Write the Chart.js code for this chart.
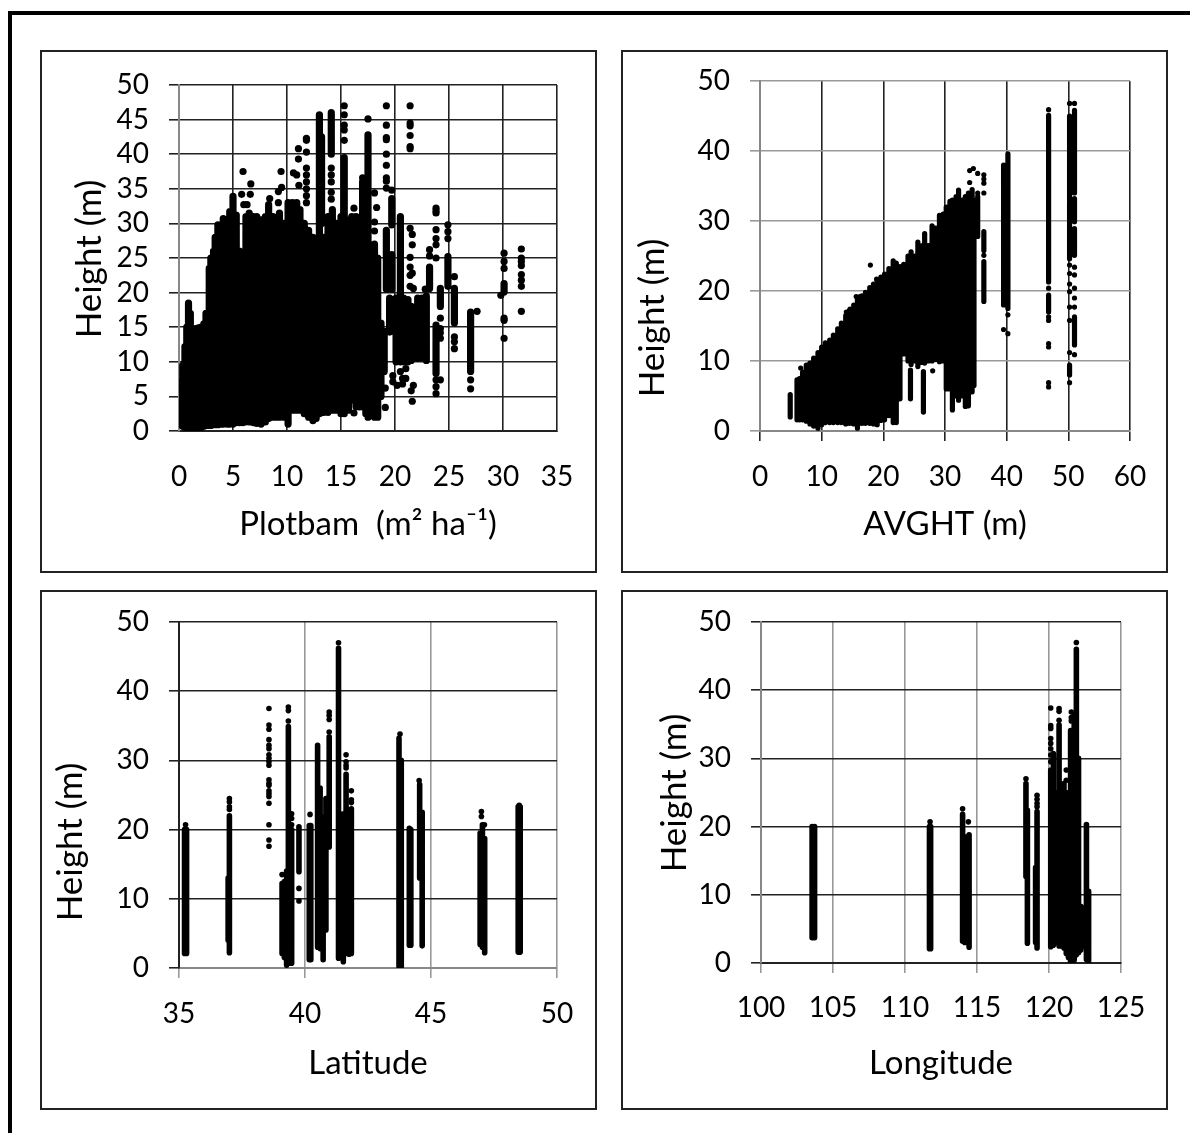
<!DOCTYPE html>
<html>
<head>
<meta charset="utf-8">
<title>Height scatter panels</title>
<script src="https://cdn.jsdelivr.net/npm/chart.js@4/dist/chart.umd.min.js"></script>
<style>
    html, body { margin: 0; padding: 0; background: #fff; width: 1190px; height: 1133px; overflow: hidden; }
    #frameTop { position: absolute; left: 8px; top: 11px; width: 1182px; height: 4px; background: #000; }
    #frameLeft { position: absolute; left: 8px; top: 11px; width: 4px; height: 1122px; background: #000; }
    canvas { position: absolute; display: block; }
    .caja { position: absolute; box-sizing: border-box; border: 2px solid #222; pointer-events: none; }
</style>
</head>
<body>
<div id="frameTop"></div>
<div id="frameLeft"></div>
<canvas id="plotbam"></canvas>
<canvas id="avght"></canvas>
<canvas id="latitude"></canvas>
<canvas id="longitude"></canvas>
<script>
// tick labels
var heightTicks10 = [0, 10, 20, 30, 40, 50];
var heightTicks5 = [0, 5, 10, 15, 20, 25, 30, 35, 40, 45, 50];
var plotbamTicks = [0, 5, 10, 15, 20, 25, 30, 35];
var avghtTicks = [0, 10, 20, 30, 40, 50, 60];
var latitudeTicks = [35, 40, 45, 50];
var longitudeTicks = [100, 105, 110, 115, 120, 125];

// solid columns: [x, lowest height, highest height]
var plotbamRanges = [
    [0.15,0.9,7],[0.35,0.7,9.5],[0.55,0.5,12.2],[0.72,0.5,15],[0.88,0.4,18.5],[1.05,0.6,17],[1.2,0.7,13.2],
    [1.4,0.4,13],[1.55,0.3,14.8],[1.8,0.4,14.9],[2.05,0.5,15],[2.3,0.7,15.5],[2.5,0.8,17],[2.8,0.8,23.5],
    [2.95,0.8,25],[3.2,1,26],[3.35,0.9,28],[3.6,0.9,29.8],[3.95,1,27],[4.1,1,30.7],[4.5,1,29],[4.7,1,31.7],
    [5,1,33.9],[5.3,1.2,31.2],[5.6,1.2,26],[5.9,1.2,25.7],[6.2,1.3,31],[6.5,1.3,31.5],[6.9,1.2,31],[7.2,1.1,31],
    [7.6,1,30.5],[8,1.3,31],[8.3,1.8,32.7],[8.7,2,31],[9,2,30],[9.3,2,31.5],[9.7,2,30],[10.1,1,33],[10.5,3,33],
    [10.9,3,33],[11.2,3,32],[11.6,2.5,30],[12,2,29],[12.4,1.5,28],[12.7,1.8,26],[13,2.5,45.7],[13.2,30,42.5],[13.4,2.7,28],
    [13.8,2.7,31],[14.2,3,32],[14.1,40,46],[14.6,3,30],[15,2.5,31],[15.3,2.5,39.5],[15.7,3,30.5],[16,4.5,31],
    [16.4,3.5,31],[16.7,3.5,30.5],[17,3.5,36],[17.3,2.5,31],[17.5,2,31],[17.5,31,42.8],[17.9,4,26],[18.1,2,27],
    [18.4,2,25],[18.7,5,15.6],[19,8.6,14.4],[19.2,20.5,29],[19.7,29.8,33.6],[19.7,20.5,25.5],[19.5,14.3,19.2],
    [20.1,10,19.2],[20.5,20.6,31],[20.5,10,20.6],[20.8,10,19.2],[21.2,10,19],[21.5,10.2,18],[22.1,10.5,19.2],
    [22.5,10.5,19.2],[22.9,10.2,19.5],[23.2,20.6,23.7],[23.8,8.3,15.3],[24.2,18,20.6],[24.9,20.9,25.2],
    [25.5,15.6,20.6],[27,8.6,17.2],[30.1,20.1,21.3]
];
// single dots: [x, height]
var plotbamDots = [
    [5.93,37.5],[6.65,35.7],[5.8,34.2],[6.6,34.2],[6,32.7],[6.3,32.7],[9.5,35.2],[9.2,34.6],[9.2,33],[8.4,33.6],
    [9.45,37.5],[11.06,40.8],[11.06,39.3],[10.6,37.3],[10.9,37],[11.1,35.5],[11.8,42.3],[11.8,42],[11.8,40.3],
    [11.8,38],[11.8,37],[11.8,36],[11.8,35],[11.8,34],[11.8,33],[14.1,38],[14.1,37],[14.1,36],[14.1,34.5],[14.1,33.5],
    [15.3,47],[15.3,45.7],[15.3,44.2],[15.3,43.5],[15.3,42],[17.5,45.1],[17,36.6],[16.2,32.2],[18.1,34.4],[18.3,32.3],
    [18.1,30.2],[18.1,28.9],[19.2,47],[21.4,47],[19.2,44.2],[21.4,44.5],[21.4,44.1],[21.4,42.7],[21.4,41.1],[21.4,40.8],
    [19.2,42.4],[19.2,42.1],[19.2,40],[19.2,38.4],[19.2,36.6],[19.2,36.1],[19.2,35.1],[19.7,34.8],[21.4,29.3],[21.6,28.4],
    [21.6,26.9],[21.4,25.1],[21.4,23.7],[21.4,22.5],[21.6,22.8],[21.4,20.9],[21.7,20.6],[23.2,26.2],[23.2,25.3],[22.8,20.5],
    [23.8,32.2],[23.8,31.8],[23.8,31.5],[23.8,29.1],[23.8,27.8],[23.8,26.9],[23.8,25],[24.9,29.8],[24.9,28.8],[24.9,27.8],
    [24.2,16.3],[24.2,14.8],[24.2,14.2],[24.2,13.4],[23.8,7.4],[24.2,7.4],[23.8,6.4],[23.8,5.4],[25.5,22.3],[25.5,13.6],
    [25.5,12.9],[25.5,11.9],[27,7.4],[27,6.1],[27.6,17.3],[30.1,25.7],[30.1,24.5],[30.1,23.5],[29.8,19.6],[30.1,16.3],
    [30.1,16],[30.1,13.4],[31.7,26.3],[31.7,25],[31.7,24.5],[31.7,23.9],[31.7,22.6],[31.7,21.8],[31.7,20.9],[31.7,17.3],
    [20.5,8.6],[21,9],[20.7,7.6],[20.2,6.6],[19.8,8],[19.8,7.1],[19.1,6.2],[19.1,3.4],[21.7,6.6],[21.5,5.8],[21.6,4.3],
    [21,7.6],[20.7,6.8],[16.2,2.6],[16.8,3.7]
];

var avghtRanges = [
    [4.9,2,5.2],[6,1.6,7.3],[6.4,1.6,7.5],[6.9,1.6,8.4],[7.5,1.4,9.4],[8.1,1,9.7],[8.7,0.7,10.4],[9.4,0.4,11.2],
    [10,0.9,12],[10.6,1.2,12.6],[11.3,1.2,13],[11.9,1.2,13.7],[12.6,1.2,14.6],[13.2,1.2,15.4],[13.9,1,16.5],
    [14.5,1.1,17.2],[15.2,1,18],[15.8,0.4,18.8],[16.5,1.1,19.3],[17.1,1.1,19.8],[17.8,1.1,20.5],[18.4,1,21],
    [19,0.9,21.5],[19.6,1.5,22],[20.2,1.6,22.4],[20.9,2.2,23.2],[21.6,1.2,24.3],[22.1,1.2,24],[22.7,4.6,23.5],
    [23.3,11,23.8],[24,10,25],[24.5,9.5,25.6],[25.1,10,25],[25.6,9.2,27],[26.3,9.8,26.5],[26.7,9.7,28.2],[27.3,10,26.5],
    [27.9,10,29.3],[28.5,10.2,29],[29.1,9.9,30.8],[29.7,10,31],[30.2,6,32],[30.8,6,32.8],[31.2,3,33],[31.8,5,33.5],
    [32.2,4.4,34.4],[32.8,5,33],[33.3,3.5,33.5],[33.8,3.6,34],[34.4,5.6,34.5],[34.7,6.5,33],[35.3,27.8,33.5],
    [24.4,4.6,8.7],[26.5,2.7,8.5],[36.3,18.5,24.2],[36.3,25.8,28.5],
    [39.5,18,38],[40.2,17.5,39.6],[46.8,21.3,45.1],[46.8,17,19.4],[50.2,33,45],[50.2,24.6,32.7],[51,34,45.8],[51,29.9,33.2],
    [51,25.1,28.9],[51,12.3,16.3],[50.2,8,9.4]
];
var avghtDots = [
    [17.9,23.7],[18.9,21.7],[15.6,19.2],[16.2,19.2],[14,17],[14.6,17.4],[6.6,9],[8,9.5],[34.6,37.5],[34,37.2],[35.3,36.8],
    [36.3,36.6],[36.3,36],[36.3,35.4],[34,35.5],[36.3,34],[35.3,34],[36.3,25.1],[39.5,14.5],[40.2,16.6],[40.2,13.9],
    [46.8,45.9],[46.8,20.4],[46.8,16.3],[46.8,15.8],[46.8,12.5],[46.8,12],[46.8,6.9],[46.8,6.3],[50.2,46.8],[51,46.8],
    [50.2,23.7],[50.2,22.5],[50.2,21],[50.2,19.9],[50.2,17.7],[50.2,15.8],[50.2,11.2],[50.2,6.9],[51,23.4],[51,22.3],
    [51,20.4],[51,19],[51,17.7],[51,10.9],[28,8.6]
];

var latitudeRanges = [
    [35.22,2.1,20],[35.3,2.1,20],[36.95,4,13],[37,2.2,22],[39.09,2.1,12.2],[39.18,1.5,12.5],[39.27,0.4,14],[39.34,1.2,34.9],
    [39.4,0.7,20],[39.47,0.7,20],[40.17,1.2,20.6],[40.23,1.2,20.6],[40.5,3,32.2],[40.6,2.8,26],[40.72,1.2,21.8],[40.83,5.5,24.5],
    [40.96,17.5,33.4],[41.33,1.4,46.2],[41.42,1.5,18],[41.52,0.9,22.3],[41.63,2.1,28],[41.75,2,22.8],[41.84,2.1,23],
    [43.73,0.2,33.2],[43.82,0.2,30],[44.14,3.3,20.2],[44.2,3.3,20],[44.55,13,26.5],[44.65,3.2,22.5],[46.95,3.4,19.5],
    [47.04,3,20.7],[47.13,2.2,18.7],[48.46,2.3,23.3],[48.54,2.3,23.3],[39.76,13.9,20.4]
];
var latitudeDots = [
    [35.26,20.7],[37,24.5],[37,24],[37,23.3],[37,22.9],[38.57,37.5],[38.57,35.1],[38.57,34.5],[38.57,33],[38.57,32.2],[38.57,31.7],
    [38.57,30.8],[38.57,30.3],[38.57,29.8],[38.57,29.3],[38.57,27.2],[38.57,26.7],[38.57,26.4],[38.57,25.6],[38.57,25.2],
    [38.57,24.8],[38.57,23.8],[38.57,20.7],[38.57,18.5],[38.57,17.6],[39.09,13.5],[39.34,37.7],[39.34,37.2],[39.34,35.7],
    [39.47,22.3],[39.47,21.6],[39.47,20.7],[39.76,11.5],[39.76,9.7],[40.2,22.2],[40.96,37],[40.96,36.5],[40.96,35.9],[40.96,34.1],
    [41.33,47],[41.63,30.8],[41.63,29.8],[41.63,29.3],[41.63,28.9],[41.84,25.6],[41.84,24.3],[41.84,23.9],[43.77,33.8],[44.53,27.1],
    [47,22.6],[47,21.9],[47.12,20.7],[48.5,23.5]
];

var longitudeRanges = [
    [103.55,3.7,20],[103.72,3.7,20],[111.7,2.1,20],[111.78,2.1,20],[114,3.2,21.8],[114.15,3,18.5],[114.45,2.3,18.8],[118.4,12.7,26.3],
    [118.5,2.9,22.4],[119.07,3,14],[119.17,2.2,22.2],[120.12,2.4,28.3],[120.3,2.6,30.7],[120.55,3,25],[120.7,2.5,34.9],[120.9,2.5,22],
    [121.04,2.2,26.3],[121.2,1.4,25],[121.35,0.8,24],[121.5,0.2,34.1],[121.75,0.4,36.5],[121.9,1.2,46],[122.05,1.5,30],[122.2,1.9,8.3],
    [122.4,2.5,8],[122.6,0.5,20],[122.75,0.3,10.5]
];
var longitudeDots = [
    [111.74,20.7],[114,22.6],[114.4,20.7],[118.4,27],[119.17,24.6],[119.17,24],[119.17,23.4],[119.17,22.9],[120.12,37.4],[120.12,34.8],
    [120.12,34.4],[120.12,32.9],[120.12,32.2],[120.12,31.4],[120.12,30.5],[120.12,29.5],[120.7,37.3],[120.7,36.9],[120.7,35.6],
    [121.2,28.3],[121.2,26.8],[121.55,36.8],[121.55,36],[121.55,35.5],[121.9,47],[122.6,20.3]
];

function columnsToLine(ranges) {
    var points = [];
    ranges.forEach(function (r) {
        points.push({x: r[0], y: r[1]}, {x: r[0], y: r[2]}, {x: null, y: null});
    });
    return points;
}

function dotsToPoints(dots) {
    return dots.map(function (d) { return {x: d[0], y: d[1]}; });
}

function panel(id, cfg) {
    var box = cfg.box, plot = cfg.plot;
    var canvas = document.getElementById(id);
    canvas.style.left = box.left + 'px';
    canvas.style.top = box.top + 'px';

    var caja = document.createElement('div');
    caja.className = 'caja';
    caja.style.cssText = 'left:' + box.left + 'px;top:' + box.top + 'px;width:' + (box.right - box.left) + 'px;height:' + (box.bottom - box.top) + 'px';
    document.body.appendChild(caja);

    // the y title is not centred on the axis in every panel, so it is placed by hand
    var yTitle = {
        id: 'yTitle',
        afterDraw: function (chart) {
            var ctx = chart.ctx;
            ctx.save();
            ctx.translate(cfg.yTitleAt[0] - box.left, cfg.yTitleAt[1] - box.top);
            ctx.rotate(-Math.PI / 2);
            ctx.font = '35px Lato';
            ctx.fillStyle = '#000';
            ctx.textAlign = 'center';
            ctx.textBaseline = 'middle';
            ctx.fillText('Height (m)', 0, 0);
            ctx.restore();
        }
    };

    new Chart(canvas, {
        type: 'scatter',
        plugins: [yTitle],
        data: {
            datasets: [{
                label: 'columns',
                data: columnsToLine(cfg.ranges),
                showLine: true,
                spanGaps: false,
                pointRadius: 0,
                borderColor: '#000',
                borderWidth: cfg.radius * 2,
                borderCapStyle: 'round'
            }, {
                label: 'dots',
                data: dotsToPoints(cfg.dots),
                pointRadius: cfg.radius,
                pointBorderWidth: 0,
                pointBackgroundColor: '#000'
            }]
        },
        options: {
            responsive: false,
            animation: false,
            devicePixelRatio: 1,
            events: [],
            layout: {
                padding: {
                    left: 0,
                    top: plot.top - box.top,
                    right: box.right - plot.right,
                    bottom: box.bottom - cfg.xBottom
                }
            },
            plugins: {legend: {display: false}, tooltip: {enabled: false}},
            scales: {
                x: {
                    type: 'linear',
                    min: cfg.xTicks[0],
                    max: cfg.xTicks[cfg.xTicks.length - 1],
                    afterBuildTicks: function (axis) {
                        axis.ticks = cfg.xTicks.map(function (v) { return {value: v}; });
                    },
                    afterFit: function (axis) {
                        axis.height = cfg.xBottom - plot.bottom;
                        axis.paddingLeft = 0;
                        axis.paddingRight = 0;
                    },
                    grid: {color: cfg.xGrid, lineWidth: 1.6, tickLength: cfg.xTickLen, tickColor: cfg.xGrid},
                    border: {color: cfg.bottomAxis, width: 2},
                    ticks: {
                        color: '#000', font: {family: 'Lato', size: 28}, padding: cfg.xPad,
                        maxRotation: 0, autoSkip: false
                    },
                    title: {
                        display: true, text: cfg.xTitle, color: '#000',
                        font: {family: 'Lato', size: 33}, padding: 0
                    }
                },
                y: {
                    type: 'linear',
                    min: 0,
                    max: 50,
                    afterBuildTicks: function (axis) {
                        axis.ticks = cfg.yTicks.map(function (v) { return {value: v}; });
                    },
                    afterFit: function (axis) {
                        axis.width = plot.left - box.left;
                        axis.paddingTop = 0;
                        axis.paddingBottom = 0;
                    },
                    grid: {color: cfg.yGrid, lineWidth: 1.6, tickLength: 10, tickColor: cfg.yGrid},
                    border: {color: cfg.leftAxis, width: 2},
                    ticks: {
                        color: '#000', font: {family: 'Lato', size: 28}, padding: cfg.yPad,
                        autoSkip: false
                    }
                }
            }
        }
    });
}

// canvas size has to be set before Chart reads it
[['plotbam', 557, 523], ['avght', 547, 523], ['latitude', 557, 520], ['longitude', 547, 520]].forEach(function (s) {
    var c = document.getElementById(s[0]);
    c.width = s[1];
    c.height = s[2];
});

panel('plotbam', {
    box: {left: 40, top: 50, right: 597, bottom: 573},
    plot: {left: 179, top: 85, right: 557, bottom: 431},
    yTitleAt: [90, 259], xBottom: 544, xTickLen: 0, xPad: 29, yPad: 20,
    xGrid: '#222', yGrid: '#222', leftAxis: '#888', bottomAxis: '#222', radius: 3.6,
    xTicks: plotbamTicks, yTicks: heightTicks5, xTitle: 'Plotbam  (m² ha⁻¹)',
    ranges: plotbamRanges, dots: plotbamDots
});
panel('avght', {
    box: {left: 621, top: 50, right: 1168, bottom: 573},
    plot: {left: 760, top: 81, right: 1130, bottom: 431},
    yTitleAt: [653, 318], xBottom: 544, xTickLen: 10, xPad: 19, yPad: 20,
    xGrid: '#222', yGrid: '#999', leftAxis: '#888', bottomAxis: '#888', radius: 2.6,
    xTicks: avghtTicks, yTicks: heightTicks10, xTitle: 'AVGHT (m)',
    ranges: avghtRanges, dots: avghtDots
});
panel('latitude', {
    box: {left: 40, top: 590, right: 597, bottom: 1110},
    plot: {left: 179, top: 622, right: 557, bottom: 968},
    yTitleAt: [71, 842], xBottom: 1083, xTickLen: 10, xPad: 19, yPad: 20,
    xGrid: '#999', yGrid: '#222', leftAxis: '#222', bottomAxis: '#888', radius: 2.8,
    xTicks: latitudeTicks, yTicks: heightTicks10, xTitle: 'Latitude',
    ranges: latitudeRanges, dots: latitudeDots
});
panel('longitude', {
    box: {left: 621, top: 590, right: 1168, bottom: 1110},
    plot: {left: 761, top: 622, right: 1121, bottom: 963},
    yTitleAt: [675, 793], xBottom: 1083, xTickLen: 10, xPad: 18, yPad: 20,
    xGrid: '#999', yGrid: '#222', leftAxis: '#888', bottomAxis: '#222', radius: 2.8,
    xTicks: longitudeTicks, yTicks: heightTicks10, xTitle: 'Longitude',
    ranges: longitudeRanges, dots: longitudeDots
});
</script>
</body>
</html>
